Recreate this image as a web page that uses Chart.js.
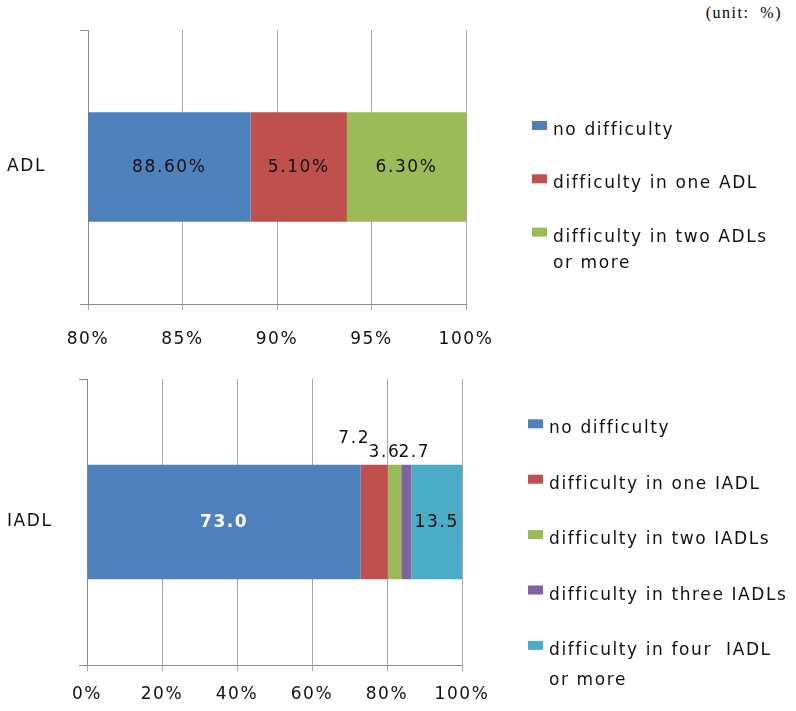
<!DOCTYPE html>
<html>
<head>
<meta charset="utf-8">
<script src="https://cdn.jsdelivr.net/npm/chart.js@4/dist/chart.umd.min.js"></script>
<style>
  html, body { margin: 0; padding: 0; background: #fff; width: 796px; height: 711px; overflow: hidden; }
  #unit { position: absolute; left: 0; top: 4px; width: 782px; text-align: right;
          font: 16px "Liberation Serif", serif; letter-spacing: 1.5px; color: #000; white-space: pre; }
  .panel { position: absolute; left: 0; width: 796px; }
  canvas { display: block; }
</style>
</head>
<body>
<div id="unit">(unit:  %)</div>
<div class="panel" style="top:0;height:360px"><canvas id="adlChart" width="796" height="360"></canvas></div>
<div class="panel" style="top:360px;height:351px"><canvas id="iadlChart" width="796" height="351"></canvas></div>

<script>
// ---- data ----
const adlCategories = ['ADL'];
const adlSeries = ['no difficulty', 'difficulty in one ADL', ['difficulty in two ADLs', 'or more']];
const adlValues = [88.6, 5.1, 6.3];
const adlTicks = [80, 85, 90, 95, 100];

const iadlCategories = ['IADL'];
const iadlSeries = ['no difficulty', 'difficulty in one IADL', 'difficulty in two IADLs',
                    'difficulty in three IADLs', ['difficulty in four  IADL', 'or more']];
const iadlValues = [73.0, 7.2, 3.6, 2.7, 13.5];
const iadlTicks = [0, 20, 40, 60, 80, 100];

const seriesColors = ['#4F81BD', '#C0504D', '#9BBB59', '#8064A2', '#4BACC6'];

// ---- shared styling ----
const FONT = 'DejaVu Sans';
const SPACING = '1.6px';
const TEXT = '#111';

// Wide letter spacing for everything drawn on the canvas
const spacingPlugin = {
  id: 'spacing',
  beforeUpdate(chart) { chart.ctx.letterSpacing = SPACING; },
  beforeDraw(chart) { chart.ctx.letterSpacing = SPACING; }
};

// Value labels drawn on (or near) each stacked segment
function makeBarLabels(cfg) {
  return {
    id: 'barLabels',
    afterDatasetsDraw(chart) {
      const { ctx, chartArea } = chart;
      ctx.save();
      ctx.letterSpacing = SPACING;
      ctx.textAlign = 'center';
      ctx.textBaseline = 'middle';
      chart.data.datasets.forEach((ds, i) => {
        const meta = chart.getDatasetMeta(i);
        const st = cfg.styles[i] || {};
        meta.data.forEach((bar, j) => {
          const left = Math.max(Math.min(bar.x, bar.base), chartArea.left);
          const right = Math.min(Math.max(bar.x, bar.base), chartArea.right);
          const cx = (left + right) / 2 + (st.dx || 0);
          const cy = bar.y + 1 + (st.dy || 0);
          ctx.font = st.font || ('17px "' + FONT + '"');
          ctx.fillStyle = st.color || TEXT;
          ctx.fillText(ds.data[j].toFixed(cfg.decimals) + cfg.suffix, cx, cy);
        });
      });
      ctx.restore();
    }
  };
}

// Vertical legend on the right side, one key per series
function makeLegend(cfg) {
  return {
    id: 'sideLegend',
    afterDraw(chart) {
      const ctx = chart.ctx;
      ctx.save();
      ctx.letterSpacing = SPACING;
      ctx.font = '17px "' + FONT + '"';
      ctx.textAlign = 'left';
      ctx.textBaseline = 'alphabetic';
      chart.data.datasets.forEach((ds, i) => {
        const base = cfg.firstBaseline + i * cfg.step;
        ctx.fillStyle = ds.backgroundColor;
        ctx.fillRect(cfg.boxX, base - 14, 15, 9);
        ctx.fillStyle = TEXT;
        const lines = Array.isArray(ds.label) ? ds.label : [ds.label];
        lines.forEach((line, k) => ctx.fillText(line, cfg.textX, base + k * cfg.lineGap));
      });
      ctx.restore();
    }
  };
}

function buildChart(canvasId, p) {
  const datasets = p.values.map((v, i) => ({
    label: p.series[i],
    data: [v],
    backgroundColor: seriesColors[i],
    borderWidth: 0,
    barPercentage: 0.4,
    categoryPercentage: 1.0
  }));
  return new Chart(document.getElementById(canvasId), {
    type: 'bar',
    data: { labels: p.categories, datasets },
    options: {
      indexAxis: 'y',
      responsive: false,
      animation: false,
      events: [],
      layout: { padding: p.padding },
      plugins: { legend: { display: false }, tooltip: { enabled: false } },
      scales: {
        x: {
          stacked: true,
          min: p.ticks[0],
          max: p.ticks[p.ticks.length - 1],
          afterBuildTicks: s => { s.ticks = p.ticks.map(v => ({ value: v })); },
          afterFit: s => { s.height = p.xHeight; },
          grid: { color: '#a8a8a8', tickColor: '#a8a8a8', tickLength: 6, lineWidth: 1 },
          border: { color: '#8c8c8c' },
          ticks: {
            color: TEXT,
            font: { family: FONT, size: 17 },
            padding: p.tickPad,
            maxRotation: 0,
            autoSkip: false,
            callback: v => v + '%'
          }
        },
        y: {
          stacked: true,
          afterFit: s => { s.width = p.yWidth; },
          grid: { drawOnChartArea: false, offset: true, tickLength: 8, color: '#8c8c8c' },
          border: { color: '#8c8c8c' },
          ticks: { color: TEXT, font: { family: FONT, size: 17 }, crossAlign: 'far', padding: 0 }
        }
      }
    },
    plugins: [spacingPlugin, makeBarLabels(p.labels), makeLegend(p.legend)]
  });
}

// ADL panel: axis from 80% to 100%
buildChart('adlChart', {
  categories: adlCategories, series: adlSeries, values: adlValues, ticks: adlTicks,
  padding: { left: 7, right: 330, top: 30, bottom: 0 },
  xHeight: 56, yWidth: 81, tickPad: 19,
  labels: { decimals: 2, suffix: '%', styles: [] },
  legend: { boxX: 532, textX: 553, firstBaseline: 135, step: 53.3, lineGap: 26.5 }
});

// IADL panel: full 0% to 100% axis; the small segments carry labels placed above the bar
buildChart('iadlChart', {
  categories: iadlCategories, series: iadlSeries, values: iadlValues, ticks: iadlTicks,
  padding: { left: 7, right: 334, top: 19, bottom: 0 },
  xHeight: 46, yWidth: 80, tickPad: 13,
  labels: {
    decimals: 1, suffix: '',
    styles: [
      { color: '#fff', font: 'bold 17px "' + FONT + '"' },
      { dx: -20, dy: -84 },
      { dx: -10, dy: -70 },
      { dx: 8, dy: -70 },
      {}
    ]
  },
  legend: { boxX: 528, textX: 549, firstBaseline: 73.3, step: 55.4, lineGap: 30 }
});
</script>
</body>
</html>
